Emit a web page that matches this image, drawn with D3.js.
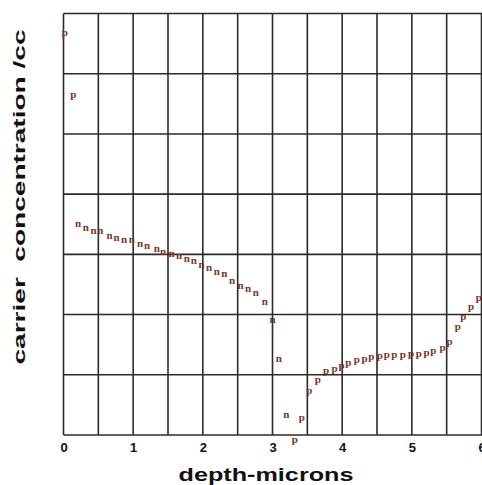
<!DOCTYPE html>
<html>
<head>
<meta charset="utf-8">
<script src="https://cdn.jsdelivr.net/npm/d3@7"></script>
<style>
  body { margin: 0; background: #fff; }
  svg { display: block; }
  .tick-label { font-family: "Liberation Sans", Arial, sans-serif; font-weight: bold; }
  .axis-title { font-family: "Liberation Sans", Arial, sans-serif; font-weight: bold; }
  .mark { font-family: "Liberation Serif", "DejaVu Serif", serif; font-weight: bold; }
</style>
</head>
<body>
<div id="chart"></div>
<script>
// Depth ticks (microns)
var xTicks = [0, 1, 2, 3, 4, 5, 6];

// p-type points: depth (microns) and concentration (/cc)
var pDepth = [0.02, 0.14,
  3.32, 3.42, 3.53, 3.65, 3.77, 3.89, 3.99, 4.09, 4.21, 4.32, 4.42, 4.54, 4.64,
  4.75, 4.87, 4.99, 5.10, 5.21, 5.31, 5.44, 5.54, 5.66, 5.74, 5.85, 5.96];
var pConc = [4.4e19, 4.2e18,
  7.6e12, 1.82e13, 5.1e13, 7.8e13, 1.07e14, 1.17e14, 1.29e14, 1.48e14, 1.62e14, 1.7e14, 1.82e14, 1.9e14, 2.0e14,
  2.0e14, 2.0e14, 2.04e14, 2.04e14, 2.14e14, 2.34e14, 2.57e14, 3.24e14, 5.9e14, 8.7e14, 1.23e15, 1.78e15];

// n-type points
var nDepth = [0.21, 0.32, 0.43, 0.53, 0.66, 0.76, 0.87, 0.98, 1.10, 1.20, 1.34, 1.43, 1.55, 1.66,
  1.77, 1.87, 1.98, 2.09, 2.20, 2.31, 2.42, 2.54, 2.65, 2.76, 2.89, 3.00, 3.09, 3.20];
var nConc = [3.2e16, 2.75e16, 2.45e16, 2.4e16, 2.0e16, 1.86e16, 1.74e16, 1.7e16, 1.48e16, 1.38e16, 1.23e16, 1.1e16, 1.02e16, 9.3e15,
  8.3e15, 7.6e15, 6.6e15, 5.9e15, 5.1e15, 4.6e15, 3.6e15, 2.95e15, 2.6e15, 2.24e15, 1.62e15, 8.1e14, 1.82e14, 2.1e13];

var svgWidth = 482;
var svgHeight = 485;

var margin = { top: 13.5, right: 0, bottom: 50, left: 63.5 };
var chartWidth = svgWidth - margin.left - margin.right;
var chartHeight = svgHeight - margin.top - margin.bottom;

var svg = d3.select("#chart")
  .append("svg")
  .attr("width", svgWidth)
  .attr("height", svgHeight);

var chartGroup = svg.append("g")
  .attr("transform", `translate(${margin.left}, ${margin.top})`);

var xScale = d3.scaleLinear().domain([0, 6]).range([0, chartWidth - 0.5]);
var yScale = d3.scaleLog().domain([1e13, 1e20]).range([chartHeight, 0]);

// grid: vertical every half micron, horizontal every decade
var xGrid = d3.range(0, 6.01, 0.5);
var yGrid = d3.range(13, 21).map(function (e) { return Math.pow(10, e); });

chartGroup.selectAll(".vgrid")
  .data(xGrid)
  .enter()
  .append("line")
  .attr("x1", function (d) { return xScale(d); })
  .attr("x2", function (d) { return xScale(d); })
  .attr("y1", 0)
  .attr("y2", chartHeight)
  .attr("stroke", "#2b2b2b")
  .attr("stroke-width", 1.6);

chartGroup.selectAll(".hgrid")
  .data(yGrid)
  .enter()
  .append("line")
  .attr("x1", 0)
  .attr("x2", chartWidth)
  .attr("y1", function (d) { return yScale(d); })
  .attr("y2", function (d) { return yScale(d); })
  .attr("stroke", "#2b2b2b")
  .attr("stroke-width", 1.6);

// x axis tick labels
var bottomAxis = d3.axisBottom(xScale).tickValues(xTicks).tickSize(0).tickPadding(8).tickFormat(d3.format("d"));
var axisG = chartGroup.append("g")
  .attr("transform", `translate(0, ${chartHeight})`)
  .call(bottomAxis);
axisG.select(".domain").remove();
axisG.selectAll("text")
  .attr("class", "tick-label")
  .style("font-size", "13px")
  .attr("fill", "#111");

// marks as letters
var pData = pDepth.map(function (d, i) { return { x: d, y: pConc[i] }; });
var nData = nDepth.map(function (d, i) { return { x: d, y: nConc[i] }; });

chartGroup.selectAll(".pmark")
  .data(pData)
  .enter()
  .append("text")
  .attr("class", "mark")
  .attr("x", function (d) { return xScale(d.x); })
  .attr("y", function (d) { return yScale(d.y); })
  .attr("dy", "0.12em")
  .attr("text-anchor", "middle")
  .style("font-size", "11px")
  .attr("fill", "#7a3326")
  .text("p");

chartGroup.selectAll(".nmark")
  .data(nData)
  .enter()
  .append("text")
  .attr("class", "mark")
  .attr("x", function (d) { return xScale(d.x); })
  .attr("y", function (d) { return yScale(d.y); })
  .attr("dy", "0.25em")
  .attr("text-anchor", "middle")
  .style("font-size", "11px")
  .attr("fill", "#7a3326")
  .text("n");

// axis titles
svg.append("text")
  .attr("class", "axis-title")
  .attr("x", 266)
  .attr("y", 481)
  .attr("text-anchor", "middle")
  .attr("textLength", 175)
  .attr("lengthAdjust", "spacingAndGlyphs")
  .style("font-size", "18px")
  .attr("fill", "#111")
  .text("depth-microns");

svg.append("text")
  .attr("class", "axis-title")
  .attr("transform", "translate(25, 197) rotate(-90)")
  .attr("text-anchor", "middle")
  .attr("textLength", 335)
  .attr("lengthAdjust", "spacingAndGlyphs")
  .style("font-size", "16px")
  .attr("fill", "#111")
  .attr("xml:space", "preserve")
  .style("white-space", "pre")
  .text("carrier  concentration /cc");
</script>
</body>
</html>
